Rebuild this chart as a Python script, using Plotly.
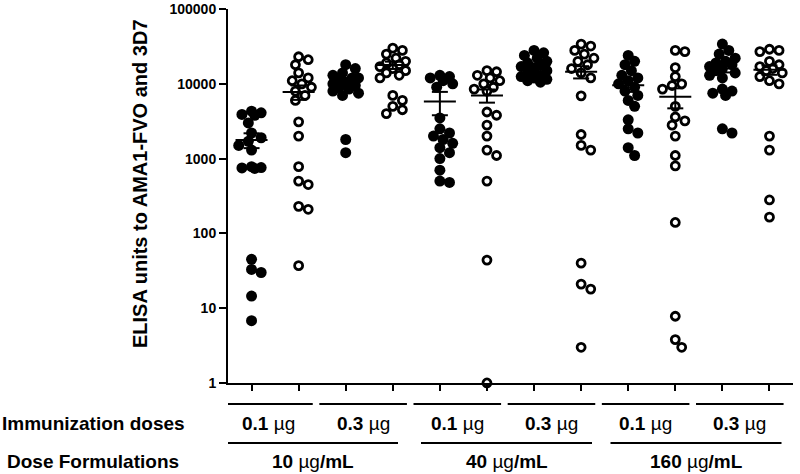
import numpy as np
import plotly.graph_objects as go

# ---------------- data ----------------
col_labels = ["10-0.1-FVO", "10-0.1-3D7", "10-0.3-FVO", "10-0.3-3D7",
              "40-0.1-FVO", "40-0.1-3D7", "40-0.3-FVO", "40-0.3-3D7",
              "160-0.1-FVO", "160-0.1-3D7", "160-0.3-FVO", "160-0.3-3D7"]

g01 = [4300, 4100, 3900, 3800, 3000, 2200, 1900, 1700, 1500, 1300, 780, 760, 750, 740, 45, 33, 30, 14.5, 6.8]
g02 = [23000, 21000, 18000, 14000, 12000, 11000, 10000, 9000, 8000, 7000, 6000, 3100, 2000, 780, 500, 450, 230, 210, 37]
g03 = [18000, 16000, 14000, 13000, 12000, 12000, 11000, 10500, 10000, 9500, 9000, 8500, 8000, 7500, 7000, 1800, 1200]
g04 = [30000, 28000, 25000, 22000, 20000, 19000, 18000, 17000, 16000, 15000, 14000, 13000, 12000, 7000, 6000, 5000, 4500, 4000]
g05 = [13000, 12500, 12000, 11000, 10000, 9000, 3500, 2500, 2200, 2000, 1800, 1600, 1400, 1200, 1000, 700, 500, 480]
g06 = [15000, 14500, 13000, 12000, 11000, 10000, 9000, 8500, 8000, 4200, 3800, 2800, 2000, 1300, 1100, 500, 44, 1]
g07 = [28000, 26000, 24000, 22000, 20000, 19000, 18000, 17000, 16000, 15000, 14000, 13000, 12500, 12000, 11500, 11000, 10500]
g08 = [34000, 32000, 28000, 25000, 22000, 20000, 18000, 16000, 14000, 12000, 6900, 2100, 1500, 1300, 40, 21, 18, 3]
g09 = [24000, 20000, 18000, 15000, 13000, 12000, 11000, 10000, 9000, 8000, 7000, 6000, 5000, 3300, 2500, 2200, 1400, 1100]
g10 = [28000, 27000, 16500, 12500, 10000, 9500, 8500, 5000, 3600, 3200, 2800, 2000, 1100, 800, 140, 7.8, 3.8, 3]
g11 = [34000, 28000, 25000, 22000, 20000, 19000, 18000, 17000, 16000, 15000, 14000, 13000, 12000, 8500, 8000, 7500, 7000, 2500, 2200]
g12 = [29000, 28000, 27000, 20000, 18000, 17000, 16000, 15000, 14000, 12500, 11000, 10000, 2000, 1300, 280, 165]

groups = [g01, g02, g03, g04, g05, g06, g07, g08, g09, g10, g11, g12]
filled = [True, False] * 6

means = [1780, 7800, 11000, 17800, 5800, 7000, 17300, 14500, 9600, 6700, 16000, 15400]
sems = [400, 1700, 1000, 2000, 2000, 1400, 1500, 2700, 1800, 2000, 1800, 2200]

ytick_vals = [1, 10, 100, 1000, 10000, 100000]
ytick_text = ["1", "10", "100", "1000", "10000", "100000"]

dose_labels = ["0.1", "0.3", "0.1", "0.3", "0.1", "0.3"]
formulation_labels = ["10", "40", "160"]

y_title = "ELISA units to AMA1-FVO and 3D7"
row1_title = "Immunization doses"
row2_title = "Dose Formulations"

# ---------------- layout geometry ----------------
W, H = 800, 474
ML, MR, MT, MB = 228, 7, 9, 91
plot_w = W - ML - MR
plot_h = H - MT - MB
px_per_unit = plot_w / 12.0
px_per_dec = plot_h / 5.0


def swarm(vals, d=8.5, step=3.2, kmax=4):
    order = sorted(range(len(vals)), key=lambda i: -vals[i])
    placed = []
    res = [0.0] * len(vals)
    cands = [0.0]
    for k in range(1, kmax + 1):
        cands += [k * step, -k * step]
    for i in order:
        y = np.log10(vals[i]) * px_per_dec
        best, bestd = 0.0, -1
        for c in cands:
            md = min([np.hypot(c - px, y - py) for px, py in placed] or [1e9])
            if md >= d:
                best = c
                break
            if md > bestd:
                bestd, best = md, c
        placed.append((best, y))
        res[i] = best / px_per_unit
    return res


fig = go.Figure()

for ci, vals in enumerate(groups):
    offs = swarm(vals)
    xs = [ci + o for o in offs]
    if filled[ci]:
        marker = dict(symbol="circle", size=11, color="black", line=dict(width=0))
    else:
        marker = dict(symbol="circle", size=8, color="white", line=dict(width=2.8, color="black"))
    fig.add_trace(go.Scatter(x=xs, y=vals, mode="markers", marker=marker,
                             showlegend=False, hoverinfo="y", cliponaxis=False))

# mean and SEM lines
lx, ly = [], []
for ci, (m, s) in enumerate(zip(means, sems)):
    lx += [ci - 0.34, ci + 0.34, None]
    ly += [m, m, None]
    lx += [ci, ci, None]
    ly += [m - s, m + s, None]
    lx += [ci - 0.17, ci + 0.17, None]
    ly += [m + s, m + s, None]
    lx += [ci - 0.17, ci + 0.17, None]
    ly += [m - s, m - s, None]
fig.add_trace(go.Scatter(x=lx, y=ly, mode="lines", line=dict(color="black", width=2),
                         showlegend=False, hoverinfo="skip"))

FONT = "Liberation Sans, Arial, sans-serif"
LBL = 19

def px_to_x(px):
    return (px - ML) / px_per_unit - 0.5

def py_to_paper(py):
    return (MT + plot_h - py) / plot_h

shapes = []
annotations = []

# dose rows
for i, lab in enumerate(dose_labels):
    c = 2 * i + 0.5 - 0.13
    x0, x1 = c - 0.93, c + 0.93
    shapes.append(dict(type="line", xref="x", yref="paper", x0=x0, x1=x1,
                       y0=py_to_paper(404), y1=py_to_paper(404),
                       line=dict(color="black", width=2)))
    annotations.append(dict(xref="x", yref="paper", x=c, y=py_to_paper(423),
                            text="<b>" + lab + " </b>µg", showarrow=False,
                            xanchor="center", yanchor="middle",
                            font=dict(size=LBL, color="black", family=FONT)))

form_centres_px = [312.5, 506.5, 696]
for i, lab in enumerate(formulation_labels):
    cpx = form_centres_px[i]
    c = px_to_x(cpx)
    hw = 85.5 / px_per_unit
    shapes.append(dict(type="line", xref="x", yref="paper", x0=c - hw, x1=c + hw,
                       y0=py_to_paper(443), y1=py_to_paper(443),
                       line=dict(color="black", width=2)))
    annotations.append(dict(xref="x", yref="paper", x=c, y=py_to_paper(461),
                            text="<b>" + lab + " </b>µg<b>/mL</b>", showarrow=False,
                            xanchor="center", yanchor="middle",
                            font=dict(size=LBL, color="black", family=FONT)))

annotations.append(dict(xref="paper", yref="paper", x=(93 - ML) / plot_w, y=py_to_paper(423),
                        text="<b>" + row1_title + "</b>", showarrow=False,
                        xanchor="center", yanchor="middle",
                        font=dict(size=LBL, color="black", family=FONT)))
annotations.append(dict(xref="paper", yref="paper", x=(93 - ML) / plot_w, y=py_to_paper(461),
                        text="<b>" + row2_title + "</b>", showarrow=False,
                        xanchor="center", yanchor="middle",
                        font=dict(size=LBL, color="black", family=FONT)))
annotations.append(dict(xref="paper", yref="paper", x=(140 - ML) / plot_w, y=py_to_paper(184),
                        text="<b>" + y_title + "</b>", showarrow=False, textangle=-90,
                        xanchor="center", yanchor="middle",
                        font=dict(size=20, color="black", family=FONT)))

fig.update_layout(
    width=W, height=H,
    margin=dict(l=ML, r=MR, t=MT, b=MB, autoexpand=False),
    paper_bgcolor="white", plot_bgcolor="white",
    shapes=shapes, annotations=annotations,
    font=dict(family=FONT, color="black"),
)
fig.update_xaxes(range=[-0.5, 11.5], showgrid=False, zeroline=False, automargin=False,
                 showline=True, linecolor="black", linewidth=2,
                 tickmode="array", tickvals=list(range(12)), ticktext=[""] * 12,
                 ticks="outside", ticklen=6, tickwidth=1.5, tickcolor="black")
fig.update_yaxes(type="log", range=[-0.0004, 5.0004], showgrid=False, zeroline=False,
                 automargin=False,
                 showline=True, linecolor="black", linewidth=2,
                 tickmode="array", tickvals=ytick_vals, ticktext=ytick_text,
                 ticks="outside", ticklen=7, tickwidth=1.5, tickcolor="black",
                 ticklabeloverflow="allow",
                 tickfont=dict(size=14, color="black", family=FONT, weight="bold"))

fig.write_html("out.html", config={"displayModeBar": False},
               post_script="document.body.style.margin='0';document.body.style.padding='0';")
